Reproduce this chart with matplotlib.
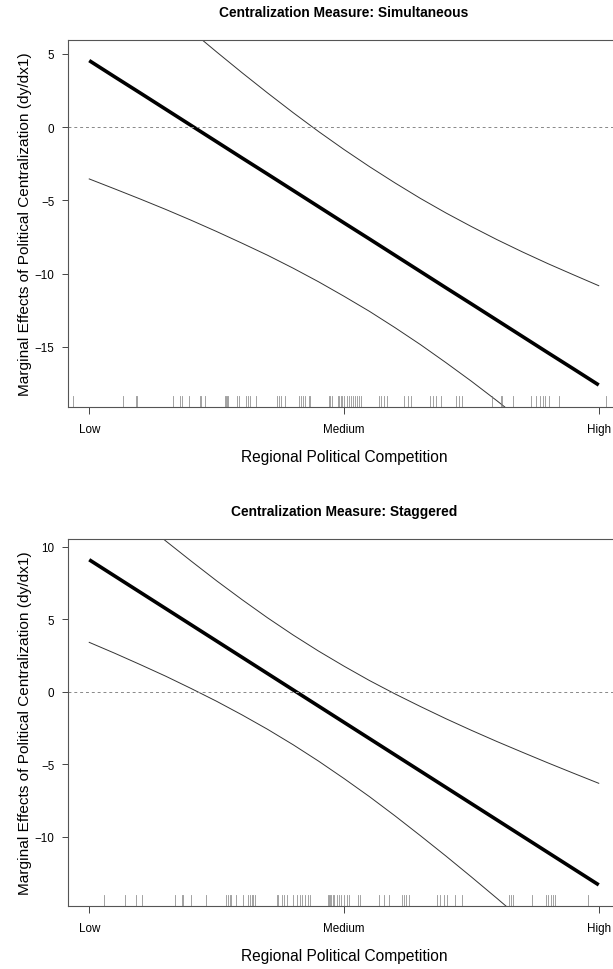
import numpy as np
import matplotlib
matplotlib.use("Agg")
import matplotlib.pyplot as plt

plt.rcParams['font.family'] = ['Liberation Sans', 'DejaVu Sans']

# competition level: Low = 0, Medium = 0.5, High = 1
comp = [0.00, 0.05, 0.10, 0.15, 0.20, 0.25, 0.30, 0.35, 0.40, 0.45, 0.50,
        0.55, 0.60, 0.65, 0.70, 0.75, 0.80, 0.85, 0.90, 0.95, 1.00]
tick_pos = [0.0, 0.5, 1.0]
tick_lab = ["Low", "Medium", "High"]

# panel 1: simultaneous
sim_est = [4.55, 3.44, 2.34, 1.23, 0.12, -0.99, -2.10, -3.20, -4.31, -5.42, -6.53,
           -7.63, -8.74, -9.85, -10.96, -12.06, -13.17, -14.28, -15.39, -16.49, -17.60]
sim_hi = [12.63, 11.09, 9.58, 8.07, 6.59, 5.14, 3.72, 2.34, 1.00, -0.29, -1.52,
          -2.69, -3.80, -4.86, -5.85, -6.78, -7.67, -8.51, -9.31, -10.07, -10.82]
sim_lo = [-3.53, -4.21, -4.90, -5.61, -6.35, -7.12, -7.92, -8.74, -9.62, -10.55, -11.54,
          -12.57, -13.68, -14.84, -16.07, -17.34, -18.67, -20.05, -21.47, -22.91, -24.38]
sim_rug = [-0.031, 0.067, 0.091, 0.094, 0.164, 0.179, 0.182, 0.196, 0.217, 0.219,
           0.227, 0.266, 0.268, 0.270, 0.272, 0.290, 0.294, 0.308, 0.312, 0.316,
           0.328, 0.368, 0.372, 0.376, 0.385, 0.411, 0.415, 0.420, 0.424, 0.431,
           0.434, 0.470, 0.473, 0.477, 0.488, 0.491, 0.494, 0.497, 0.501, 0.505,
           0.509, 0.514, 0.517, 0.521, 0.525, 0.529, 0.533, 0.568, 0.573, 0.579,
           0.585, 0.618, 0.625, 0.631, 0.668, 0.675, 0.681, 0.690, 0.719, 0.726,
           0.732, 0.790, 0.808, 0.811, 0.832, 0.867, 0.876, 0.884, 0.890, 0.895,
           0.902, 0.922, 1.014]

# panel 2: staggered
stg_est = [9.09, 7.97, 6.85, 5.73, 4.61, 3.49, 2.37, 1.25, 0.13, -0.99, -2.11,
           -3.23, -4.35, -5.47, -6.59, -7.71, -8.83, -9.95, -11.07, -12.19, -13.31]
stg_hi = [14.78, 13.29, 11.83, 10.39, 9.00, 7.64, 6.34, 5.09, 3.91, 2.80, 1.76,
          0.77, -0.15, -1.02, -1.86, -2.66, -3.43, -4.17, -4.90, -5.61, -6.31]
stg_lo = [3.40, 2.65, 1.87, 1.07, 0.22, -0.66, -1.60, -2.59, -3.65, -4.78, -5.98,
          -7.23, -8.55, -9.92, -11.32, -12.76, -14.23, -15.73, -17.24, -18.77, -20.31]
stg_rug = [0.029, 0.070, 0.091, 0.104, 0.169, 0.182, 0.184, 0.199, 0.230, 0.269,
           0.272, 0.276, 0.279, 0.289, 0.302, 0.312, 0.315, 0.319, 0.322, 0.326,
           0.368, 0.371, 0.379, 0.383, 0.388, 0.399, 0.407, 0.413, 0.418, 0.424,
           0.429, 0.434, 0.468, 0.470, 0.473, 0.475, 0.478, 0.481, 0.486, 0.490,
           0.494, 0.501, 0.505, 0.509, 0.527, 0.531, 0.568, 0.579, 0.589, 0.614,
           0.618, 0.622, 0.628, 0.683, 0.688, 0.697, 0.703, 0.718, 0.732, 0.824,
           0.827, 0.832, 0.869, 0.896, 0.901, 0.906, 0.910, 0.915, 0.979]

panels = [
    ("Centralization Measure: Simultaneous", sim_est, sim_hi, sim_lo, sim_rug,
     (-19.08, 5.98), [-15, -10, -5, 0, 5], [0.1114, 0.5797, 0.8995, 0.3784]),
    ("Centralization Measure: Staggered", stg_est, stg_hi, stg_lo, stg_rug,
     (-14.74, 10.52), [-10, -5, 0, 5, 10], [0.1114, 0.0653, 0.8995, 0.3780]),
]

fig = plt.figure(figsize=(6.13, 9.70), dpi=100)

for title, est, hi, lo, rug, ylim, yticks, rect in panels:
    ax = fig.add_axes(rect)
    ax.plot(comp, est, color='black', lw=2.6, solid_capstyle='butt')
    ax.plot(comp, hi, color='#333333', lw=0.7)
    ax.plot(comp, lo, color='#333333', lw=0.7)
    ax.axhline(0, color='#888888', lw=0.7, ls=(0, (3, 3)))
    # rug along the bottom
    for r in rug:
        ax.axvline(r, ymin=0, ymax=0.028, color='#777777', lw=0.6, alpha=0.8)
    ax.set_xlim(-0.0411, 1.0411)
    ax.set_ylim(*ylim)
    ax.set_xticks(tick_pos)
    ax.set_xticklabels(tick_lab)
    ax.set_yticks(yticks)
    ax.tick_params(labelsize=8.4, width=0.7, color='#444444')
    ax.tick_params(axis='x', length=5, pad=6.5)
    ax.tick_params(axis='y', length=4.5, pad=5.5)
    for s in ax.spines.values():
        s.set_color('#555555')
        s.set_linewidth(0.8)
    ax.set_title(title, fontsize=9.9, fontweight='bold', pad=17)
    ax.set_xlabel("Regional Political Competition", fontsize=11.2, labelpad=10.5)
    ax.set_ylabel("Marginal Effects of Political Centralization (dy/dx1)", fontsize=11.1, labelpad=2)

fig.savefig("out.png", dpi=100)
